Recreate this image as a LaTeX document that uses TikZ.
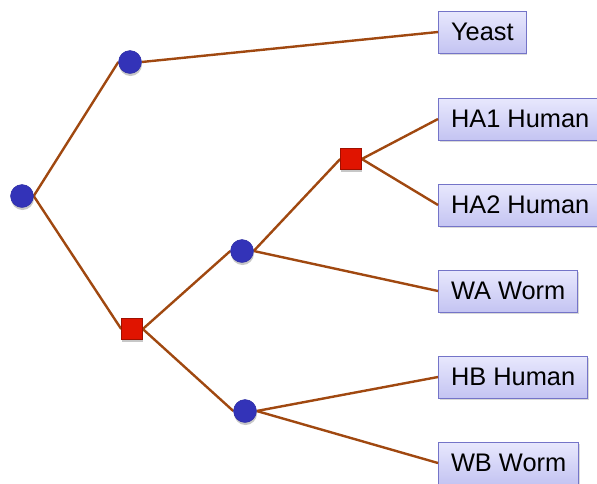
\documentclass[tikz,border=0pt]{standalone}
\usepackage{fontspec}
\setmainfont{Liberation Sans}
\usetikzlibrary{shadows}
\definecolor{edgebrown}{HTML}{A04810}
\definecolor{dotblue}{HTML}{3333B8}
\definecolor{dotblueb}{HTML}{2828A0}
\definecolor{sqred}{HTML}{E01400}
\definecolor{sqredb}{HTML}{A01000}
\definecolor{boxtop}{HTML}{E8E8FD}
\definecolor{boxbot}{HTML}{C4C4F2}
\definecolor{boxline}{HTML}{7474C8}
\tikzset{
  edge/.style={draw=edgebrown, line width=2.4pt},
  dot/.style={circle, minimum size=23pt, inner sep=0pt, fill=dotblue, draw=dotblueb, line width=0.4pt,
     drop shadow={shadow xshift=0.5pt, shadow yshift=-2.5pt, opacity=0.25}},
  sq/.style={rectangle, minimum size=21pt, inner sep=0pt, fill=sqred, draw=sqredb, line width=0.6pt,
     drop shadow={shadow xshift=0.5pt, shadow yshift=-2.5pt, opacity=0.25}},
  leaf/.style={rectangle, anchor=west, minimum height=42pt, inner xsep=12.5pt, inner ysep=0pt,
     top color=boxtop, bottom color=boxbot, draw=boxline, line width=1pt,
     font=\fontsize{25.4}{30}\selectfont, text height=18pt, text depth=0.5pt,
     drop shadow={shadow xshift=1pt, shadow yshift=-2pt, opacity=0.3}}
}
\begin{document}
\begin{tikzpicture}[x=1pt, y=-1pt]
\useasboundingbox (0,0) rectangle (597,483);
% leaves
\node[leaf] (yeast) at (438,32) {Yeast};
\node[leaf] (ha1) at (438,119) {HA1 Human};
\node[leaf] (ha2) at (438,205) {HA2 Human};
\node[leaf] (wa) at (438,291) {WA Worm};
\node[leaf] (hb) at (438,377) {HB Human};
\node[leaf] (wb) at (438,463) {WB Worm};
% internal nodes (coordinates for edges)
\coordinate (rootc) at (22,196);
\coordinate (topc) at (130,62);
\coordinate (sq1c) at (132,329);
\coordinate (midc) at (242,251);
\coordinate (botc) at (245,411);
\coordinate (sq2c) at (351,159);
\path (rootc) node[dot, draw=none, fill=none, drop shadow={opacity=0}] (root) {};
\path (topc) node[dot, draw=none, fill=none, drop shadow={opacity=0}] (top) {};
\path (sq1c) node[sq, draw=none, fill=none, drop shadow={opacity=0}] (sq1) {};
\path (midc) node[dot, draw=none, fill=none, drop shadow={opacity=0}] (mid) {};
\path (botc) node[dot, draw=none, fill=none, drop shadow={opacity=0}] (bot) {};
\path (sq2c) node[sq, draw=none, fill=none, drop shadow={opacity=0}] (sq2) {};
% edges
\draw[edge] (root.east) -- (top.west);
\draw[edge] (root.east) -- (sq1.west);
\draw[edge] (top.east) -- (yeast.west);
\draw[edge] (sq1.east) -- (mid.west);
\draw[edge] (sq1.east) -- (bot.west);
\draw[edge] (mid.east) -- (sq2.west);
\draw[edge] (mid.east) -- (wa.west);
\draw[edge] (sq2.east) -- (ha1.west);
\draw[edge] (sq2.east) -- (ha2.west);
\draw[edge] (bot.east) -- (hb.west);
\draw[edge] (bot.east) -- (wb.west);
% visible markers
\node[dot] at (root) {};
\node[dot] at (top) {};
\node[sq] at (sq1) {};
\node[dot] at (mid) {};
\node[dot] at (bot) {};
\node[sq] at (sq2) {};
\end{tikzpicture}
\end{document}
